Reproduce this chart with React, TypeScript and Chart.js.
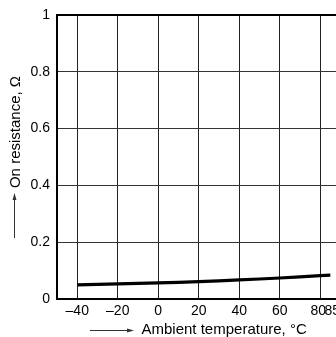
import React, { useEffect, useRef } from 'react';
import { Chart, registerables } from 'chart.js';

Chart.register(...registerables);

const temperatures = [-40, -20, 0, 20, 40, 60, 80, 85];
const resistance = [0.05, 0.053, 0.057, 0.061, 0.067, 0.074, 0.082, 0.084];
const xTickValues = [-40, -20, 0, 20, 40, 60, 80, 85];
const yTickValues = [0, 0.2, 0.4, 0.6, 0.8, 1];
const xTitle = 'Ambient temperature, °C';
const yTitle = 'On resistance, Ω';

const FONT = '"Liberation Sans", Arial, Helvetica, sans-serif';

const titlesPlugin = {
  id: 'axisTitles',
  afterDraw(chart: any) {
    const ctx = chart.ctx as CanvasRenderingContext2D;
    ctx.save();
    ctx.fillStyle = '#000';
    ctx.strokeStyle = '#333';
    ctx.lineWidth = 1;
    ctx.font = `15px ${FONT}`;

    // X title: arrow line then text
    const ly = 330;
    ctx.beginPath();
    ctx.moveTo(90, ly + 0.5);
    ctx.lineTo(130, ly + 0.5);
    ctx.stroke();
    ctx.beginPath();
    ctx.moveTo(134, ly + 0.5);
    ctx.lineTo(127, ly - 1.5);
    ctx.lineTo(127, ly + 2.5);
    ctx.closePath();
    ctx.fillStyle = '#333';
    ctx.fill();
    ctx.fillStyle = '#000';
    ctx.textAlign = 'left';
    ctx.textBaseline = 'alphabetic';
    ctx.fillText(xTitle, 141.5, 334);

    // Y title: arrow line then rotated text
    const lx = 14;
    ctx.beginPath();
    ctx.moveTo(lx + 0.5, 238);
    ctx.lineTo(lx + 0.5, 197);
    ctx.stroke();
    ctx.beginPath();
    ctx.moveTo(lx + 0.5, 193);
    ctx.lineTo(lx - 1.5, 200);
    ctx.lineTo(lx + 2.5, 200);
    ctx.closePath();
    ctx.fillStyle = '#333';
    ctx.fill();
    ctx.fillStyle = '#000';
    ctx.translate(20, 132);
    ctx.rotate(-Math.PI / 2);
    ctx.textAlign = 'center';
    ctx.fillText(yTitle, 0, 0);
    ctx.restore();
  },
};

export default function App() {
  const ref = useRef<HTMLCanvasElement | null>(null);

  useEffect(() => {
    document.body.style.margin = '0';
    document.documentElement.style.overflow = 'hidden';
    Chart.defaults.font.family = FONT;
    const canvas = ref.current!;
    const chart = new Chart(canvas, {
      type: 'line',
      data: {
        datasets: [
          {
            data: temperatures.map((t, i) => ({ x: t, y: resistance[i] })),
            borderColor: '#000',
            borderWidth: 3.2,
            pointRadius: 0,
            tension: 0.4,
            fill: false,
          },
        ],
      },
      options: {
        responsive: false,
        animation: false,
        devicePixelRatio: 1,
        layout: { padding: { top: 15, left: 8, right: 0, bottom: 0 } },
        plugins: { legend: { display: false }, tooltip: { enabled: false } },
        scales: {
          x: {
            type: 'linear',
            min: -50,
            max: 87.8,
            afterBuildTicks: (s: any) => {
              s.ticks = xTickValues.map((v) => ({ value: v }));
            },
            afterFit: (s: any) => {
              s.height = 38;
              s.paddingRight = 0;
              s.paddingLeft = 0;
            },
            ticks: {
              autoSkip: false,
              maxRotation: 0,
              minRotation: 0,
              padding: 4,
              color: '#000',
              font: { size: 14, family: FONT },
              callback: (v: any) =>
                v === 85
                  ? ' 85'
                  : v === 80
                  ? '80 '
                  : v < 0
                  ? '\u2013' + Math.abs(v)
                  : String(v),
            },
            grid: {
              drawTicks: false,
              color: (c: any) =>
                c.tick && c.tick.value === 85 ? 'rgba(0,0,0,0)' : '#222',
              lineWidth: 1,
            },
            border: { color: '#000', width: 2 },
          },
          y: {
            type: 'linear',
            min: 0,
            max: 1,
            afterBuildTicks: (s: any) => {
              s.ticks = yTickValues.map((v) => ({ value: v }));
            },
            afterFit: (s: any) => {
              s.width = 49;
              s.paddingTop = 0;
              s.paddingBottom = 0;
            },
            ticks: {
              padding: 7,
              color: '#000',
              font: { size: 14, family: FONT },
              callback: (v: any) => String(v),
            },
            grid: {
              drawTicks: false,
              color: (c: any) => (c.tick && c.tick.value === 1 ? '#000' : '#333'),
              lineWidth: (c: any) => (c.tick && c.tick.value === 1 ? 2 : 1),
            },
            border: { color: '#000', width: 2 },
          },
        },
      },
      plugins: [titlesPlugin],
    });
    return () => chart.destroy();
  }, []);

  return (
    <canvas
      ref={ref}
      width={336}
      height={337}
      style={{ display: 'block', width: 336, height: 337 }}
    />
  );
}
